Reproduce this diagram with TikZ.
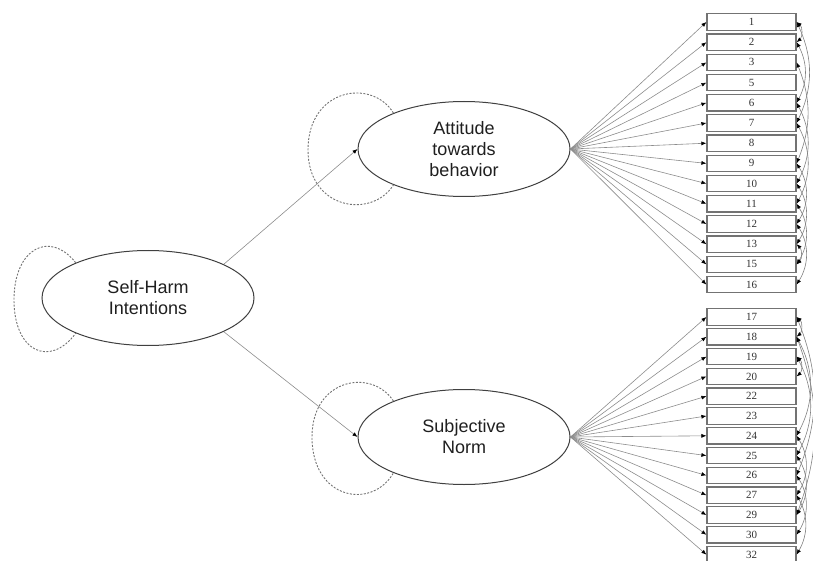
\documentclass[tikz,border=0pt]{standalone}
\usepackage{fontspec}
\setmainfont{Liberation Sans}
\newfontfamily\numfont{Liberation Serif}
\usetikzlibrary{shapes.geometric,arrows.meta}

\begin{document}
\begin{tikzpicture}[x=1pt,y=-1pt,
    latent/.style={draw=black!75, line width=1pt, ellipse, inner sep=0pt,
      minimum width=212pt, minimum height=95pt, align=center, text=black!88,
      font=\fontsize{18}{21}\selectfont},
    item/.style={draw=black!55, line width=1.2pt, fill=white, minimum width=89pt,
      minimum height=16.5pt, inner sep=0pt, text=black!80,
      font=\numfont\fontsize{11}{11}\selectfont},
    tip/.tip={Latex[length=5pt,width=4pt,color=black]},
    load/.style={draw=black!45, line width=0.6pt, -tip},
    varloop/.style={draw=black!55, line width=0.9pt, dash pattern=on 2pt off 1.5pt},
    cov/.style={draw=black!50, line width=0.6pt, tip-tip}]
  \useasboundingbox (0,0) rectangle (813,561);

  \node[latent] (sh) at (148,298) {Self-Harm\\Intentions};
  \node[latent] (att) at (464,149) {Attitude\\towards\\behavior};
  \node[latent] (sn) at (464,437) {Subjective\\Norm};

  % observed items
  \foreach \lab [count=\i from 0] in {1,2,3,5,6,7,8,9,10,11,12,13,15,16} {
    \node[item] (b\lab) at (751.5,{22+20.2*\i}) {\lab};
    \draw[load] (att.east) -- (b\lab.west);
  }
  \foreach \lab [count=\i from 0] in {17,18,19,20,22,23,24,25,26,27,29,30,32} {
    \node[item] (b\lab) at (751.5,{317+19.8*\i}) {\lab};
    \draw[load] (sn.east) -- (b\lab.west);
  }

  \draw[load] (sh.24) -- (att.west);
  \draw[load] (sh.-24) -- (sn.west);

  % variances
  \draw[varloop] (sh.154) .. controls (50,230) and (14,248) .. (14,300)
    .. controls (14,352) and (50,368) .. (sh.206);
  \draw[varloop] (att.153) .. controls (372,78) and (308,88) .. (308,150)
    .. controls (308,210) and (372,219) .. (att.207);
  \draw[varloop] (sn.153) .. controls (372,368) and (312,378) .. (312,437)
    .. controls (312,500) and (372,510) .. (sn.207);

  % error covariances
  \foreach \a/\b/\s in {1/2/50,1/7/25,2/6/28,3/9/22,6/10/28,7/11/28,9/12/32,
      10/13/32,11/15/32,12/16/32,13/15/45,17/18/50,18/24/28,19/20/50,19/25/28,
      17/26/22,24/27/32,25/29/32,26/30/32,27/32/30,18/29/20}
    \draw[cov] (b\a.east) to[bend left=\s] (b\b.east);
\end{tikzpicture}
\end{document}
